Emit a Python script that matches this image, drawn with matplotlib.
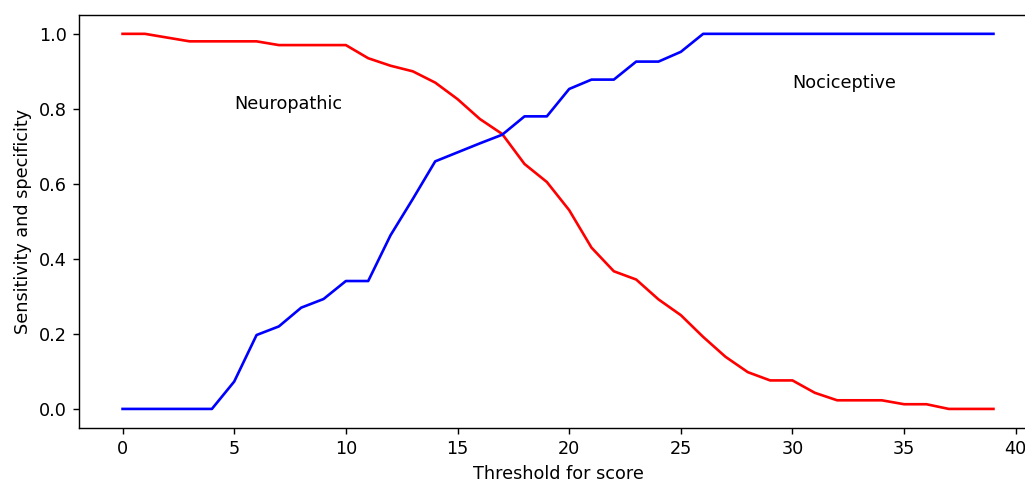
import matplotlib
matplotlib.use("Agg")
import matplotlib.pyplot as plt

thresholds = list(range(40))
specificity = [1.0, 1.0, 0.99, 0.98, 0.98, 0.98, 0.98, 0.97, 0.97, 0.97,
               0.97, 0.935, 0.915, 0.90, 0.87, 0.826, 0.773, 0.733, 0.653, 0.605,
               0.53, 0.43, 0.367, 0.345, 0.292, 0.25, 0.192, 0.139, 0.098, 0.076,
               0.076, 0.043, 0.023, 0.023, 0.023, 0.0125, 0.0125, 0.0, 0.0, 0.0]
sensitivity = [0.0, 0.0, 0.0, 0.0, 0.0, 0.073, 0.197, 0.22, 0.27, 0.293,
               0.341, 0.341, 0.463, 0.56, 0.66, 0.684, 0.708, 0.731, 0.78, 0.78,
               0.853, 0.878, 0.878, 0.926, 0.926, 0.952, 1.0, 1.0, 1.0, 1.0,
               1.0, 1.0, 1.0, 1.0, 1.0, 1.0, 1.0, 1.0, 1.0, 1.0]

DPI = 127
fig = plt.figure(figsize=(1025 / DPI, 482 / DPI), dpi=DPI)
ax = fig.add_axes([0.0771, 0.1127, 0.9346, 0.856])
ax.plot(thresholds, specificity, color="red", linewidth=1.5)
ax.plot(thresholds, sensitivity, color="blue", linewidth=1.5)
ax.text(5, 0.80, "Neuropathic")
ax.text(30, 0.855, "Nociceptive")
ax.set_xlabel("Threshold for score")
ax.set_ylabel("Sensitivity and specificity")
ax.set_xticks([0, 5, 10, 15, 20, 25, 30, 35, 40])
ax.set_xlim(-1.95, 40.95)
ax.set_ylim(-0.05, 1.05)
ax.spines["right"].set_visible(False)
fig.savefig("out.png", dpi=DPI)
